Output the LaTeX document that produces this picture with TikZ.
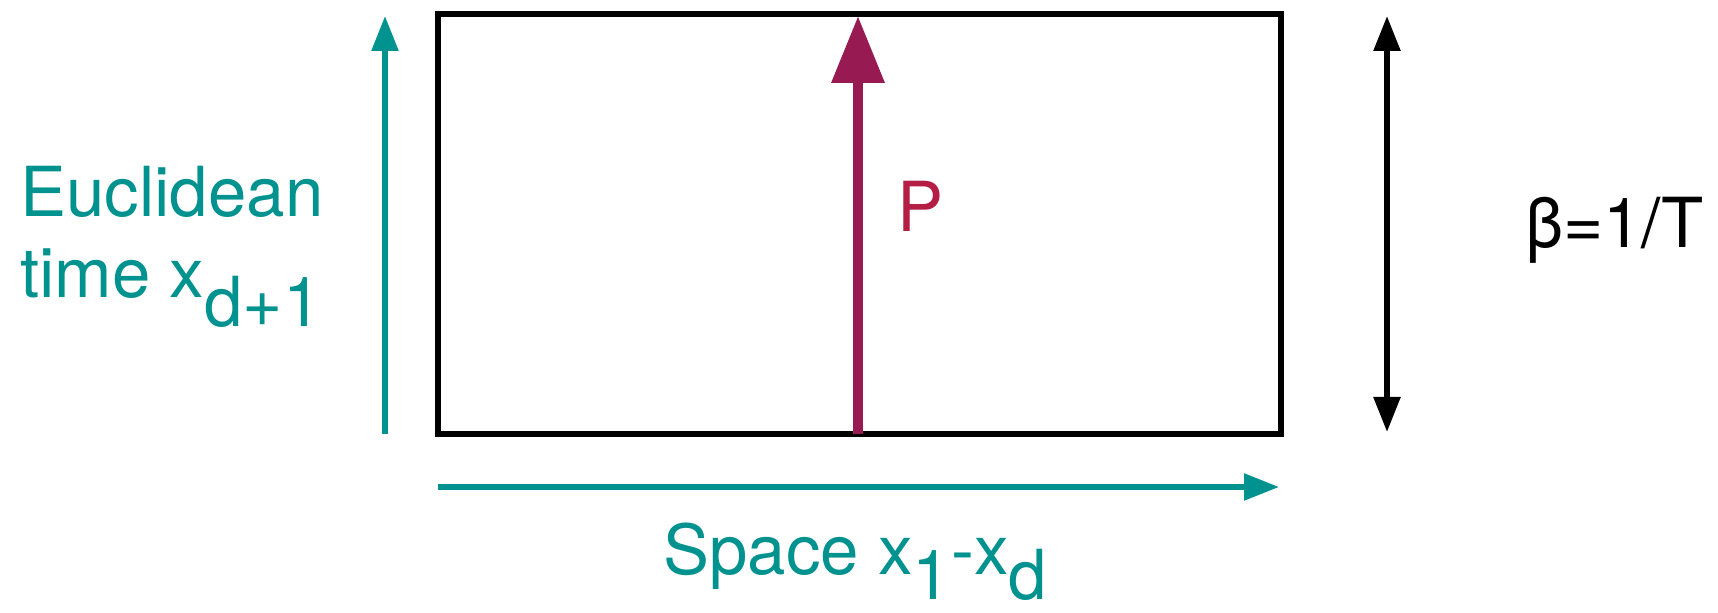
\documentclass[tikz,border=0pt]{standalone}
\usepackage{fontspec}
\setmainfont{TeX Gyre Heros}
\usetikzlibrary{arrows.meta}
\definecolor{teal}{HTML}{00928F}
\definecolor{plum}{HTML}{981A52}
\definecolor{ptext}{HTML}{B41E45}
\begin{document}
\begin{tikzpicture}[x=0.5pt,y=-0.5pt,
  lbl/.style={inner sep=0pt,anchor=base west,font=\fontsize{34.5}{41}\selectfont},
  tealarrow/.style={draw=teal,line width=2.8pt,-{Triangle[length=17.5pt,width=13pt]}},
  plumarrow/.style={draw=plum,line width=5pt,-{Triangle[length=33.5pt,width=25.5pt]}},
  blackarrow/.style={draw=black,line width=2.8pt,{Triangle[length=17.5pt,width=13pt]}-{Triangle[length=17.5pt,width=13pt]}}]
\useasboundingbox (0,0) rectangle (1718,613);
% box
\node[draw=black,line width=3pt,minimum width=421.5pt,minimum height=210pt,inner sep=0pt] (box) at (859.5,224) {};
% coordinates
\coordinate (tv0) at (385,434);
\coordinate (tv1) at (385,16);
\coordinate (p0) at (858,434);
\coordinate (p1) at (858,16);
\coordinate (b0) at (1387,16);
\coordinate (b1) at (1387,432);
\coordinate (th0) at (438,487);
\coordinate (th1) at (1279,487);
% arrows
\draw[tealarrow] (tv0) -- (tv1);
\draw[plumarrow] (p0) -- (p1);
\draw[blackarrow] (b0) -- (b1);
\draw[tealarrow] (th0) -- (th1);
% labels
\node[lbl,text=teal] (eu1) at (20,217) {Euclidean};
\node[lbl,text=teal] (eu2) at (20,298) {time x\raisebox{-14.5pt}{d+1}};
\node[lbl,text=ptext] (plbl) at (897,232) {P};
\node[lbl,text=black] (beta) at (1525,248) {β=1/T};
\node[lbl,text=teal] (space) at (663,575) {Space x\raisebox{-12.5pt}{1}-x\raisebox{-12.5pt}{d}};
\end{tikzpicture}
\end{document}
